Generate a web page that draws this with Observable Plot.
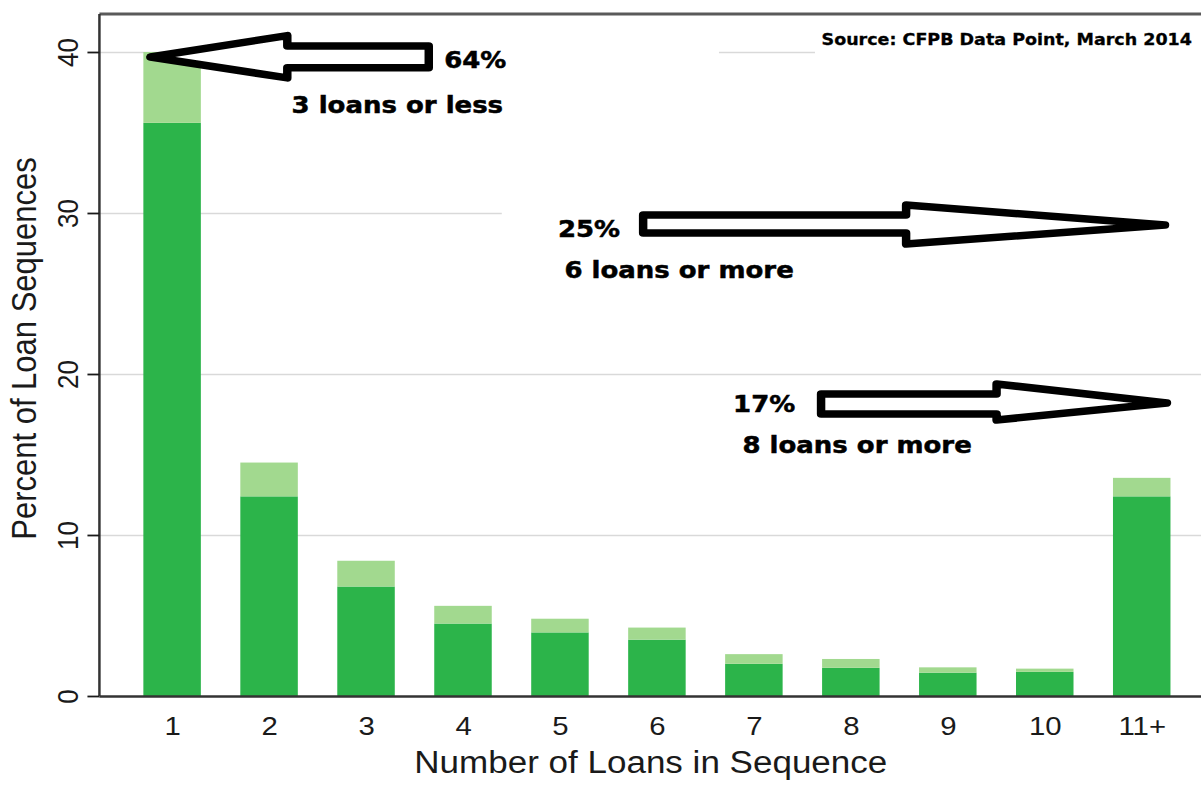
<!DOCTYPE html>
<html><head><meta charset="utf-8">
<script src="https://cdn.jsdelivr.net/npm/d3@7"></script>
<script src="https://cdn.jsdelivr.net/npm/@observablehq/plot@0.6"></script>
<style>body{margin:0;background:#fff;} #chart svg{display:block;}</style>
</head><body><div id="chart"></div>
<script>
// ---- data ----
const categories = ["1","2","3","4","5","6","7","8","9","10","11+"];
const darkValues = [35.6, 12.4, 6.8, 4.5, 3.95, 3.5, 2.0, 1.75, 1.45, 1.5, 12.4];
const totalValues = [40.0, 14.5, 8.4, 5.6, 4.8, 4.25, 2.6, 2.3, 1.78, 1.7, 13.55];
const yTicks = [0, 10, 20, 30, 40];
const gridValues = [10, 20, 30, 40];
const xTitle = "Number of Loans in Sequence";
const yTitle = "Percent of Loan Sequences";

// annotations in data units: u = offset in category steps from first category, v = percent
const annotationLabels = [
  {text: "64%", u: 3.126, v: 39.0, kind: "big"},
  {text: "3 loans or less", u: 2.323, v: 36.2, kind: "big"},
  {text: "25%", u: 4.30, v: 28.53, kind: "big"},
  {text: "6 loans or more", u: 5.229, v: 25.94, kind: "big"},
  {text: "17%", u: 6.106, v: 17.66, kind: "big"},
  {text: "8 loans or more", u: 7.065, v: 15.07, kind: "big"},
  {text: "Source: CFPB Data Point, March 2014", u: 10.518, v: 40.43, kind: "source"}
];
const arrow1 = [[-0.224,39.69],[1.188,41.02],[1.188,40.37],[2.647,40.37],[2.647,39.02],[1.188,39.02],[1.188,38.39]];
const arrow2 = [[4.858,29.88],[7.570,29.88],[7.570,30.50],[10.240,29.25],[7.570,28.07],[7.570,28.76],[4.858,28.76]];
const arrow3 = [[6.693,18.76],[8.503,18.76],[8.503,19.38],[10.260,18.20],[8.503,17.14],[8.503,17.52],[6.693,17.52]];
const arrowShapes = [arrow1, arrow2, arrow3];
// white backgrounds of the pasted annotations (hide gridlines there)
const maskBoxes = [
  {u1: 0.33, u2: 5.64, v1: 35.0, v2: 42.3},
  {u1: 6.63, u2: 99, v1: 38.9, v2: 42.3},
  {u1: 3.40, u2: 99, v1: 25.0, v2: 31.2}
];

// ---- styles ----
const darkGreen = "#2cb44a";
const lightGreen = "#a2d98f";
const stretch = 1.13;             // reference is horizontally stretched
const outW = 1201, outH = 785;
const W = Math.round(outW / stretch);
const textStyles = {
  big: {size: 23, family: "DejaVu Sans", weight: "bold", stroke: 0.5},
  source: {size: 15.5, family: "DejaVu Sans", weight: "bold", stroke: 0.3}
};

const rows = categories.map((c, i) => ({cat: c, dark: darkValues[i], total: totalValues[i]}));

function bandHelpers(scales) {
  const x = scales.x;
  const step = x(categories[1]) - x(categories[0]);
  const bw = x.bandwidth ? x.bandwidth() : step * 0.593;
  const x0 = x(categories[0]) + bw / 2;
  return u => x0 + u * step;
}

function masks(index, scales, values, dims) {
  const px = bandHelpers(scales), y = scales.y;
  const g = d3.create("svg:g");
  for (const b of maskBoxes) {
    const a = px(b.u1), c = Math.min(px(b.u2), dims.width);
    g.append("rect").attr("x", a).attr("width", c - a)
      .attr("y", y(b.v2)).attr("height", y(b.v1) - y(b.v2)).attr("fill", "#fff");
  }
  return g.node();
}

function frameLines(index, scales, values, dims) {
  const {marginLeft, marginTop, marginBottom, height, width} = dims;
  const g = d3.create("svg:g");
  g.append("line").attr("x1", marginLeft).attr("x2", width).attr("y1", marginTop).attr("y2", marginTop)
    .attr("stroke", "#5a5a5a").attr("stroke-width", 3);
  g.append("line").attr("x1", marginLeft).attr("x2", marginLeft).attr("y1", marginTop).attr("y2", height - marginBottom)
    .attr("stroke", "#333").attr("stroke-width", 2.2);
  return g.node();
}

function annotations(index, scales, values, dims) {
  const px = bandHelpers(scales), y = scales.y;
  const g = d3.create("svg:g");
  for (const pts of arrowShapes) {
    g.append("path")
      .attr("d", "M" + pts.map(([u, v]) => `${px(u)},${y(v)}`).join("L") + "Z")
      .attr("fill", "#fff").attr("stroke", "#000").attr("stroke-width", 7.5)
      .attr("stroke-linejoin", "round");
  }
  for (const a of annotationLabels) {
    const s = textStyles[a.kind];
    g.append("text").attr("x", px(a.u)).attr("y", y(a.v))
      .attr("text-anchor", a.kind === "source" ? "end" : "middle")
      .attr("font-family", s.family).attr("font-weight", s.weight).attr("font-size", s.size)
      .attr("fill", "#000").attr("stroke", "#000").attr("stroke-width", s.stroke)
      .text(a.text);
  }
  return g.node();
}

const chart = Plot.plot({
  width: W,
  height: outH,
  marginLeft: 88,
  marginRight: 0,
  marginTop: 14,
  marginBottom: 89,
  style: {fontFamily: "'Liberation Sans', Arial, sans-serif", color: "#1a1a1a", background: "#fff"},
  x: {domain: categories, paddingInner: 0.407, paddingOuter: 0.384, align: 0.59, round: false},
  y: {domain: [0, 42.36]},
  marks: [
    Plot.ruleY(gridValues, {stroke: "#d9d9d9", strokeWidth: 1.6}),
    masks,
    Plot.barY(rows, {x: "cat", y1: 0, y2: "dark", fill: darkGreen}),
    Plot.barY(rows, {x: "cat", y1: "dark", y2: "total", fill: lightGreen}),
    Plot.ruleY([0], {stroke: "#333", strokeWidth: 2.5}),
    frameLines,
    Plot.axisY({ticks: yTicks, tickSize: 10.6, tickRotate: -90, tickPadding: 9, fontSize: 26, label: null, strokeWidth: 1.8}),
    Plot.axisX({tickSize: 0, tickPadding: 20, fontSize: 26, label: null}),
    Plot.text([xTitle], {frameAnchor: "bottom", lineAnchor: "bottom", dy: 76, fontSize: 31, fill: "#1a1a1a"}),
    Plot.text([yTitle], {frameAnchor: "left", textAnchor: "middle", rotate: -90, lineAnchor: "bottom", dx: -57, dy: -7, fontSize: 31, fill: "#1a1a1a"}),
    annotations
  ]
});

chart.setAttribute("width", outW);
chart.setAttribute("height", outH);
chart.setAttribute("preserveAspectRatio", "none");
chart.style.width = outW + "px";
chart.style.height = outH + "px";
chart.style.maxWidth = "none";
document.getElementById("chart").appendChild(chart);
</script>
</body></html>
